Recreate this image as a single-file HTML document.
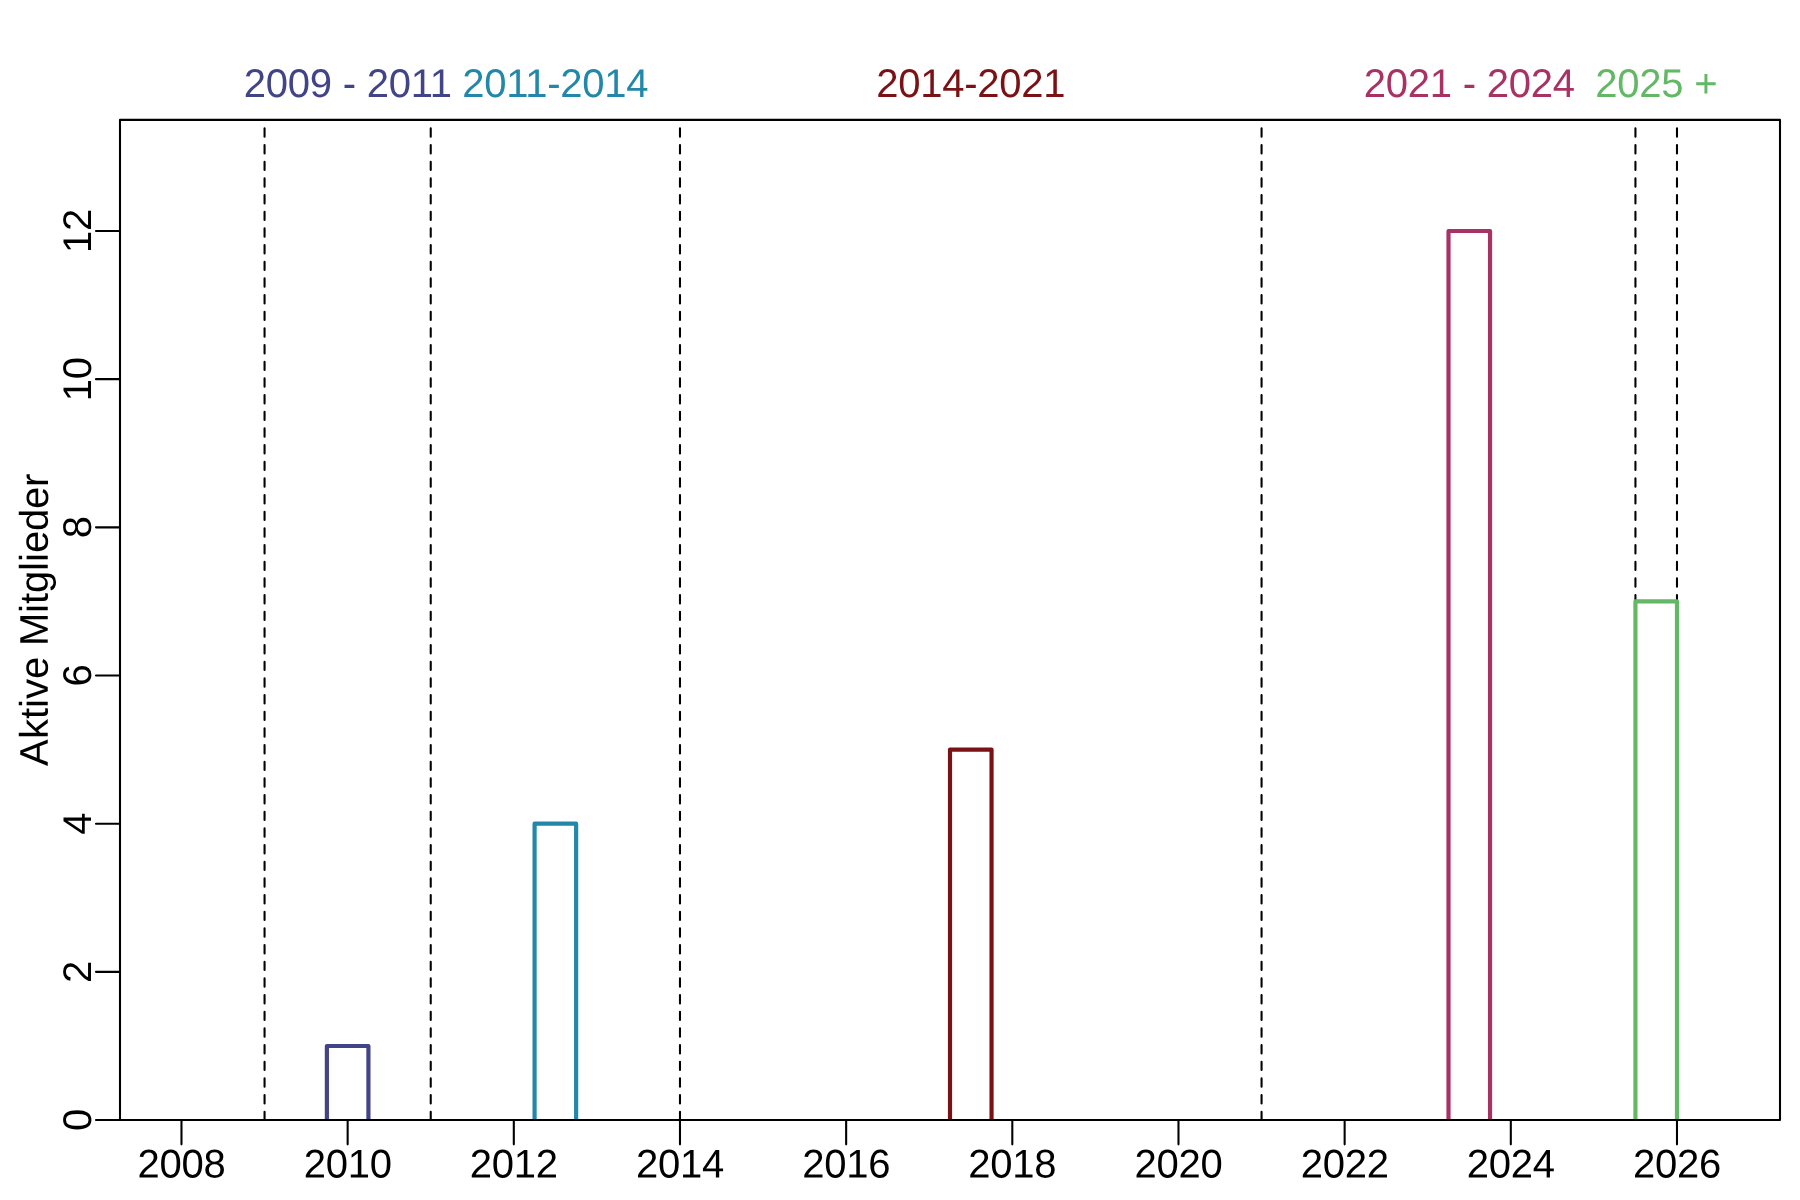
<!DOCTYPE html><html><head><meta charset="utf-8"><style>html,body{margin:0;padding:0;background:#fff;}svg{display:block;will-change:transform;}text{font-family:"Liberation Sans",sans-serif;}</style></head><body>
<svg width="1800" height="1200" viewBox="0 0 1800 1200">
<rect x="0" y="0" width="1800" height="1200" fill="#fff"/>
<line x1="264.56" y1="1120.05" x2="264.56" y2="121.85" stroke="#000" stroke-width="2.083" stroke-dasharray="8.3333 8.3333" stroke-linecap="round"/>
<line x1="430.73" y1="1120.05" x2="430.73" y2="121.85" stroke="#000" stroke-width="2.083" stroke-dasharray="8.3333 8.3333" stroke-linecap="round"/>
<line x1="679.98" y1="1120.05" x2="679.98" y2="121.85" stroke="#000" stroke-width="2.083" stroke-dasharray="8.3333 8.3333" stroke-linecap="round"/>
<line x1="1261.56" y1="1120.05" x2="1261.56" y2="121.85" stroke="#000" stroke-width="2.083" stroke-dasharray="8.3333 8.3333" stroke-linecap="round"/>
<line x1="1635.44" y1="1120.05" x2="1635.44" y2="121.85" stroke="#000" stroke-width="2.083" stroke-dasharray="8.3333 8.3333" stroke-linecap="round"/>
<line x1="1676.98" y1="1120.05" x2="1676.98" y2="121.85" stroke="#000" stroke-width="2.083" stroke-dasharray="8.3333 8.3333" stroke-linecap="round"/>
<path d="M326.88 1120.05V1045.96H368.42V1120.05" fill="none" stroke="#414487" stroke-width="4.17" stroke-linejoin="round" stroke-linecap="butt"/>
<path d="M534.58 1120.05V823.69H576.13V1120.05" fill="none" stroke="#2287A8" stroke-width="4.17" stroke-linejoin="round" stroke-linecap="butt"/>
<path d="M950.00 1120.05V749.61H991.54V1120.05" fill="none" stroke="#7A1114" stroke-width="4.17" stroke-linejoin="round" stroke-linecap="butt"/>
<path d="M1448.50 1120.05V230.98H1490.04V1120.05" fill="none" stroke="#A83264" stroke-width="4.17" stroke-linejoin="round" stroke-linecap="butt"/>
<path d="M1635.44 1120.05V601.43H1676.98V1120.05" fill="none" stroke="#63B865" stroke-width="4.17" stroke-linejoin="round" stroke-linecap="butt"/>
<rect x="120.0" y="119.85" width="1660.0" height="1000.1999999999999" fill="none" stroke="#000" stroke-width="2.083" stroke-linejoin="round"/>
<line x1="120.00" y1="1120.05" x2="96.00" y2="1120.05" stroke="#000" stroke-width="2.083" stroke-linecap="round"/>
<text x="80.10" y="1120.05" transform="rotate(-89.95 91.10 1120.05)" font-size="40" fill="#000">0</text>
<line x1="120.00" y1="971.87" x2="96.00" y2="971.87" stroke="#000" stroke-width="2.083" stroke-linecap="round"/>
<text x="80.10" y="971.87" transform="rotate(-89.95 91.10 971.87)" font-size="40" fill="#000">2</text>
<line x1="120.00" y1="823.69" x2="96.00" y2="823.69" stroke="#000" stroke-width="2.083" stroke-linecap="round"/>
<text x="80.10" y="823.69" transform="rotate(-89.95 91.10 823.69)" font-size="40" fill="#000">4</text>
<line x1="120.00" y1="675.52" x2="96.00" y2="675.52" stroke="#000" stroke-width="2.083" stroke-linecap="round"/>
<text x="80.10" y="675.52" transform="rotate(-89.95 91.10 675.52)" font-size="40" fill="#000">6</text>
<line x1="120.00" y1="527.34" x2="96.00" y2="527.34" stroke="#000" stroke-width="2.083" stroke-linecap="round"/>
<text x="80.10" y="527.34" transform="rotate(-89.95 91.10 527.34)" font-size="40" fill="#000">8</text>
<line x1="120.00" y1="379.16" x2="96.00" y2="379.16" stroke="#000" stroke-width="2.083" stroke-linecap="round"/>
<text x="69.10 91.10" y="379.16" transform="rotate(-89.95 91.10 379.16)" font-size="40" fill="#000">10</text>
<line x1="120.00" y1="230.98" x2="96.00" y2="230.98" stroke="#000" stroke-width="2.083" stroke-linecap="round"/>
<text x="69.10 91.10" y="230.98" transform="rotate(-89.95 91.10 230.98)" font-size="40" fill="#000">12</text>
<line x1="181.48" y1="1120.05" x2="181.48" y2="1144.35" stroke="#000" stroke-width="2.083" stroke-linecap="round"/>
<text x="137.48 159.48 181.48 203.48" y="1177.50" transform="rotate(0.05 181.48 1177.50)" font-size="40" fill="#000">2008</text>
<line x1="347.65" y1="1120.05" x2="347.65" y2="1144.35" stroke="#000" stroke-width="2.083" stroke-linecap="round"/>
<text x="303.65 325.65 347.65 369.65" y="1177.50" transform="rotate(0.05 347.65 1177.50)" font-size="40" fill="#000">2010</text>
<line x1="513.81" y1="1120.05" x2="513.81" y2="1144.35" stroke="#000" stroke-width="2.083" stroke-linecap="round"/>
<text x="469.81 491.81 513.81 535.81" y="1177.50" transform="rotate(0.05 513.81 1177.50)" font-size="40" fill="#000">2012</text>
<line x1="679.98" y1="1120.05" x2="679.98" y2="1144.35" stroke="#000" stroke-width="2.083" stroke-linecap="round"/>
<text x="635.98 657.98 679.98 701.98" y="1177.50" transform="rotate(0.05 679.98 1177.50)" font-size="40" fill="#000">2014</text>
<line x1="846.15" y1="1120.05" x2="846.15" y2="1144.35" stroke="#000" stroke-width="2.083" stroke-linecap="round"/>
<text x="802.15 824.15 846.15 868.15" y="1177.50" transform="rotate(0.05 846.15 1177.50)" font-size="40" fill="#000">2016</text>
<line x1="1012.31" y1="1120.05" x2="1012.31" y2="1144.35" stroke="#000" stroke-width="2.083" stroke-linecap="round"/>
<text x="968.31 990.31 1012.31 1034.31" y="1177.50" transform="rotate(0.05 1012.31 1177.50)" font-size="40" fill="#000">2018</text>
<line x1="1178.48" y1="1120.05" x2="1178.48" y2="1144.35" stroke="#000" stroke-width="2.083" stroke-linecap="round"/>
<text x="1134.48 1156.48 1178.48 1200.48" y="1177.50" transform="rotate(0.05 1178.48 1177.50)" font-size="40" fill="#000">2020</text>
<line x1="1344.64" y1="1120.05" x2="1344.64" y2="1144.35" stroke="#000" stroke-width="2.083" stroke-linecap="round"/>
<text x="1300.64 1322.64 1344.64 1366.64" y="1177.50" transform="rotate(0.05 1344.64 1177.50)" font-size="40" fill="#000">2022</text>
<line x1="1510.81" y1="1120.05" x2="1510.81" y2="1144.35" stroke="#000" stroke-width="2.083" stroke-linecap="round"/>
<text x="1466.81 1488.81 1510.81 1532.81" y="1177.50" transform="rotate(0.05 1510.81 1177.50)" font-size="40" fill="#000">2024</text>
<line x1="1676.98" y1="1120.05" x2="1676.98" y2="1144.35" stroke="#000" stroke-width="2.083" stroke-linecap="round"/>
<text x="1632.98 1654.98 1676.98 1698.98" y="1177.50" transform="rotate(0.05 1676.98 1177.50)" font-size="40" fill="#000">2026</text>
<text x="-98.20 -71.20 -51.20 -40.20 -31.20 -11.20 10.80 21.80 54.80 63.80 74.80 96.80 105.80 114.80 136.80 158.80 180.80" y="619.95" transform="rotate(-89.95 47.80 619.95)" font-size="40" fill="#000">Aktive Mitglieder</text>
<text x="243.65 265.65 287.65 309.65 331.65 342.65 355.65 366.65 388.65 410.65 429.65" y="97.00" transform="rotate(0.05 347.65 97.00)" font-size="40" fill="#414487">2009 - 2011</text>
<text x="462.36 484.36 506.36 525.36 547.36 560.36 582.36 604.36 626.36" y="97.00" transform="rotate(0.05 555.36 97.00)" font-size="40" fill="#2287A8">2011-2014</text>
<text x="876.27 898.27 920.27 942.27 964.27 977.27 999.27 1021.27 1043.27" y="97.00" transform="rotate(0.05 970.77 97.00)" font-size="40" fill="#7A1114">2014-2021</text>
<text x="1363.77 1385.77 1407.77 1429.77 1451.77 1462.77 1475.77 1486.77 1508.77 1530.77 1552.77" y="97.00" transform="rotate(0.05 1469.27 97.00)" font-size="40" fill="#A83264">2021 - 2024</text>
<text x="1595.21 1617.21 1639.21 1661.21 1683.21 1694.21" y="97.00" transform="rotate(0.05 1656.21 97.00)" font-size="40" fill="#63B865">2025 +</text>
</svg></body></html>
